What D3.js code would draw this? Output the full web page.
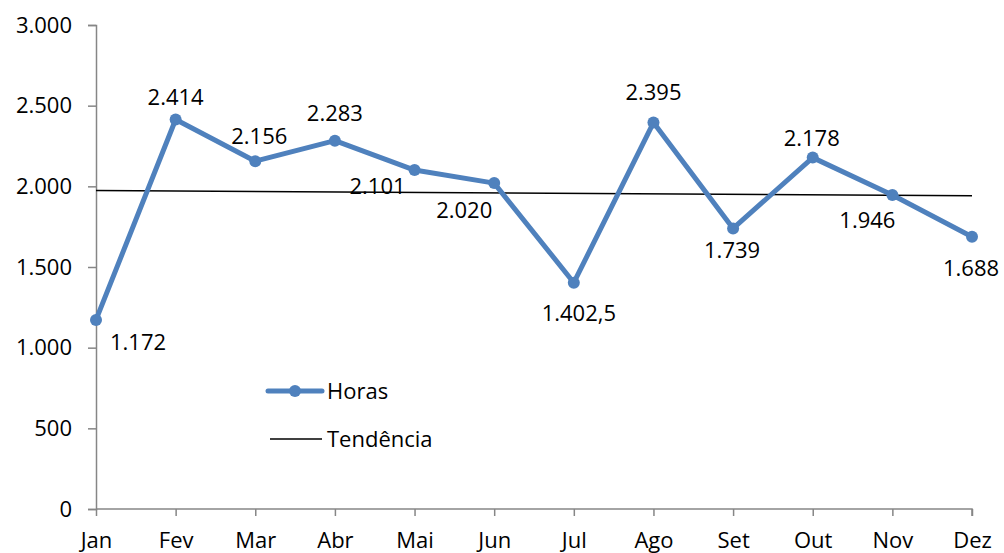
<!DOCTYPE html>
<html>
<head>
<meta charset="utf-8">
<script src="https://cdn.jsdelivr.net/npm/d3@7"></script>
<style>
  body { margin: 0; background: #fff; }
  svg { display: block; }
  svg text { font-family: "Open Sans", sans-serif; font-size: 22px; fill: #000; }
</style>
</head>
<body>
<svg id="chart" width="1004" height="553"></svg>
<script>
// data
const months = ["Jan", "Fev", "Mar", "Abr", "Mai", "Jun", "Jul", "Ago", "Set", "Out", "Nov", "Dez"];
const horas = [1172, 2414, 2156, 2283, 2101, 2020, 1402.5, 2395, 1739, 2178, 1946, 1688];
const yTicks = [0, 500, 1000, 1500, 2000, 2500, 3000];

// where each data label sits relative to its point (px)
const labelOffsets = [
  [42, 22], [0, -22], [4, -25], [0, -27], [-37, 16],
  [-30, 27], [5, 31], [0, -30], [-1, 22], [-1, -19], [-25, 25], [-1, 32]
];

const width = 1004, height = 553;
const margin = { left: 96, right: 32, top: 25, bottom: 44 };

const svg = d3.select("#chart");
const ptBR = d3.formatLocale({ decimal: ",", thousands: ".", grouping: [3], currency: ["R$", ""] });
const fmt = ptBR.format(",");

const x = d3.scalePoint()
  .domain(months)
  .range([margin.left, width - margin.right]);

const y = d3.scaleLinear()
  .domain([0, 3000])
  .range([height - margin.bottom, margin.top]);

const axisColor = "#868686";

// y axis
const yAxis = svg.append("g")
  .attr("transform", `translate(${margin.left},0)`)
  .call(d3.axisLeft(y).tickValues(yTicks).tickSize(8).tickPadding(16).tickFormat(fmt));
yAxis.attr("font-size", null).attr("font-family", null);
yAxis.select(".domain").attr("stroke", axisColor).attr("stroke-width", 1.5);
yAxis.selectAll(".tick line").attr("stroke", axisColor).attr("stroke-width", 1.5);

// x axis
const xAxis = svg.append("g")
  .attr("transform", `translate(0,${y(0)})`)
  .call(d3.axisBottom(x).tickSizeInner(7).tickSizeOuter(0).tickPadding(16));
xAxis.attr("font-size", null).attr("font-family", null);
xAxis.select(".domain").attr("stroke", axisColor).attr("stroke-width", 1.5)
  .attr("d", `M${x(months[0])},0H${x(months[months.length - 1])}V7`);
xAxis.selectAll(".tick line").attr("stroke", axisColor).attr("stroke-width", 1.5);

// linear trend (least squares over the series)
const idx = horas.map((d, i) => i);
const mx = d3.mean(idx), my = d3.mean(horas);
const slope = d3.sum(idx, i => (i - mx) * (horas[i] - my)) / d3.sum(idx, i => (i - mx) ** 2);
const trend = idx.map(i => my + slope * (i - mx));

svg.append("line")
  .attr("x1", x(months[0])).attr("y1", y(trend[0]))
  .attr("x2", x(months[11])).attr("y2", y(trend[11]))
  .attr("stroke", "#000").attr("stroke-width", 1.5);

// series
const blue = "#4F81BD";
svg.append("path")
  .datum(horas)
  .attr("fill", "none")
  .attr("stroke", blue)
  .attr("stroke-width", 5)
  .attr("stroke-linejoin", "round")
  .attr("d", d3.line().x((d, i) => x(months[i])).y(d => y(d)));

svg.append("g").selectAll("circle")
  .data(horas)
  .join("circle")
  .attr("cx", (d, i) => x(months[i]))
  .attr("cy", d => y(d))
  .attr("r", 6)
  .attr("fill", blue);

// data labels
svg.append("g").selectAll("text")
  .data(horas)
  .join("text")
  .attr("x", (d, i) => x(months[i]) + labelOffsets[i][0])
  .attr("y", (d, i) => y(d) + labelOffsets[i][1])
  .attr("dy", "0.35em")
  .attr("text-anchor", "middle")
  .text(d => fmt(d));

// legend
const legend = svg.append("g").attr("transform", "translate(268,391)");
legend.append("line").attr("x1", 0).attr("x2", 54).attr("y1", 0).attr("y2", 0)
  .attr("stroke", blue).attr("stroke-width", 5).attr("stroke-linecap", "round");
legend.append("circle").attr("cx", 27).attr("cy", 0).attr("r", 6).attr("fill", blue);
legend.append("text").attr("x", 59).attr("y", 0).attr("dy", "0.35em").text("Horas");
legend.append("line").attr("x1", 2).attr("x2", 54).attr("y1", 48).attr("y2", 48)
  .attr("stroke", "#000").attr("stroke-width", 1.5);
legend.append("text").attr("x", 59).attr("y", 48).attr("dy", "0.35em").text("Tendência");
</script>
</body>
</html>
